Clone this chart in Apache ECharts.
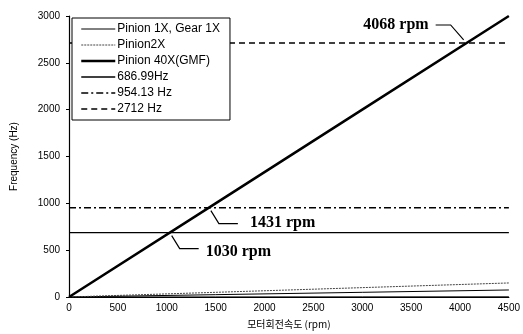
<!DOCTYPE html>
<html>
<head>
<meta charset="utf-8">
<script src="https://cdn.jsdelivr.net/npm/echarts@6/dist/echarts.min.js"></script>
<style>
html, body { margin: 0; padding: 0; background: #fff; }
#chart { width: 523px; height: 334px; }
</style>
</head>
<body>
<div id="chart"></div>
<script>
// rpm sample points for the sloped lines
const rpm = [0, 1500, 3000, 4500]
const pinion1x = [0, 25, 50, 75]
const gear1x = [0, 0.6, 1.2, 1.9]
const pinion2x = [0, 50, 100, 150]
const gmf = [0, 1000, 2000, 3000]

// horizontal frequency lines
const rpmRange = [0, 4500]
const freq687 = [686.99, 686.99]
const freq954 = [954.13, 954.13]
const freq2712 = [2712, 2712]

// crossing points
const crossRpm = [1030, 1431, 4068]
const crossHz = [686.99, 954.13, 2712]
const crossLabels = ['1030 rpm', '1431 rpm', '4068 rpm']

const xTicks = [0, 4500, 500]
const yTicks = [0, 3000, 500]

const pairs = (xs, ys) => xs.map((x, i) => [x, ys[i]])

const myChart = echarts.init(document.getElementById('chart'))

const styles = {
  'Pinion 1X, Gear 1X': { color: '#000', width: 1 },
  'Pinion2X': { color: '#444', width: 1, type: [2, 1] },
  'Pinion 40X(GMF)': { color: '#000', width: 2.5 },
  '686.99Hz': { color: '#000', width: 1.3 },
  '954.13 Hz': { color: '#000', width: 1.5, type: [7, 3, 2, 3] },
  '2712 Hz': { color: '#000', width: 1.5, type: [6, 4] }
}

const line = (name, xs, ys) => ({
  name: name,
  type: 'line',
  data: pairs(xs, ys),
  symbol: 'none',
  silent: true,
  animation: false,
  lineStyle: styles[name],
  itemStyle: { color: '#000' }
})

const option = {
  backgroundColor: '#fff',
  animation: false,
  grid: { left: 69, right: 13, top: 16, bottom: 37 },
  legend: {
    orient: 'vertical',
    left: 72,
    top: 18,
    padding: [5, 10, 5, 8],
    itemWidth: 34,
    itemHeight: 12,
    itemGap: 4,
    borderColor: '#000',
    borderWidth: 1,
    backgroundColor: '#fff',
    itemStyle: { opacity: 0 },
    textStyle: { fontFamily: 'Liberation Sans', fontSize: 12, color: '#000', padding: [0, 0, 0, -3] },
    data: Object.keys(styles).map(n => ({ name: n, lineStyle: styles[n] }))
  },
  xAxis: {
    type: 'value',
    min: xTicks[0],
    max: xTicks[1],
    interval: xTicks[2],
    name: '모터회전속도 (rpm)',
    nameLocation: 'middle',
    nameGap: 22,
    nameTextStyle: { fontFamily: 'Noto Sans CJK KR', fontSize: 10, color: '#000' },
    axisLine: { lineStyle: { color: '#000', width: 1.2 } },
    axisTick: { show: false },
    splitLine: { show: false },
    axisLabel: { fontFamily: 'Liberation Sans', fontSize: 10, color: '#000', margin: 6, formatter: v => String(v) }
  },
  yAxis: {
    type: 'value',
    min: yTicks[0],
    max: yTicks[1],
    interval: yTicks[2],
    name: 'Frequency (Hz)',
    nameLocation: 'middle',
    nameGap: 50,
    nameTextStyle: { fontFamily: 'Liberation Sans', fontSize: 10, color: '#000' },
    axisLine: { show: true, lineStyle: { color: '#000', width: 1.2 } },
    axisTick: { show: true, length: 3, lineStyle: { color: '#000' } },
    splitLine: { show: false },
    axisLabel: { fontFamily: 'Liberation Sans', fontSize: 10, color: '#000', margin: 9, formatter: v => String(v) }
  },
  series: [
    line('Pinion 1X, Gear 1X', rpm, pinion1x),
    line('Pinion 1X, Gear 1X', rpm, gear1x),
    line('Pinion2X', rpm, pinion2x),
    line('686.99Hz', rpmRange, freq687),
    line('954.13 Hz', rpmRange, freq954),
    line('2712 Hz', rpmRange, freq2712),
    line('Pinion 40X(GMF)', rpm, gmf)
  ]
}

myChart.setOption(option)

// leader lines and labels at the crossing points
const labelFont = 'bold 16px "Liberation Serif"'
const graphics = []
crossRpm.forEach((r, i) => {
  const p = myChart.convertToPixel({ gridIndex: 0 }, [r, crossHz[i]])
  let pts, tx, ty, align
  if (i === 2) {
    pts = [[p[0] - 3, p[1] - 3], [p[0] - 16, p[1] - 18], [p[0] - 31, p[1] - 18]]
    tx = p[0] - 38; ty = p[1] - 18; align = 'right'
  } else {
    pts = [[p[0] + 2, p[1] + 3], [p[0] + 10, p[1] + 16], [p[0] + 29, p[1] + 16]]
    tx = p[0] + (i === 0 ? 36 : 41); ty = p[1] + (i === 0 ? 19 : 15); align = 'left'
  }
  graphics.push({
    type: 'polyline',
    shape: { points: pts },
    style: { stroke: '#000', lineWidth: 1.2, fill: null },
    silent: true
  })
  graphics.push({
    type: 'text',
    x: tx,
    y: ty,
    style: {
      text: crossLabels[i],
      font: labelFont,
      fill: '#000',
      textAlign: align,
      align: align,
      textVerticalAlign: 'middle',
      verticalAlign: 'middle'
    },
    silent: true
  })
})
myChart.setOption({ graphic: graphics })

window.addEventListener('resize', () => {
  myChart.resize()
})
</script>
</body>
</html>
